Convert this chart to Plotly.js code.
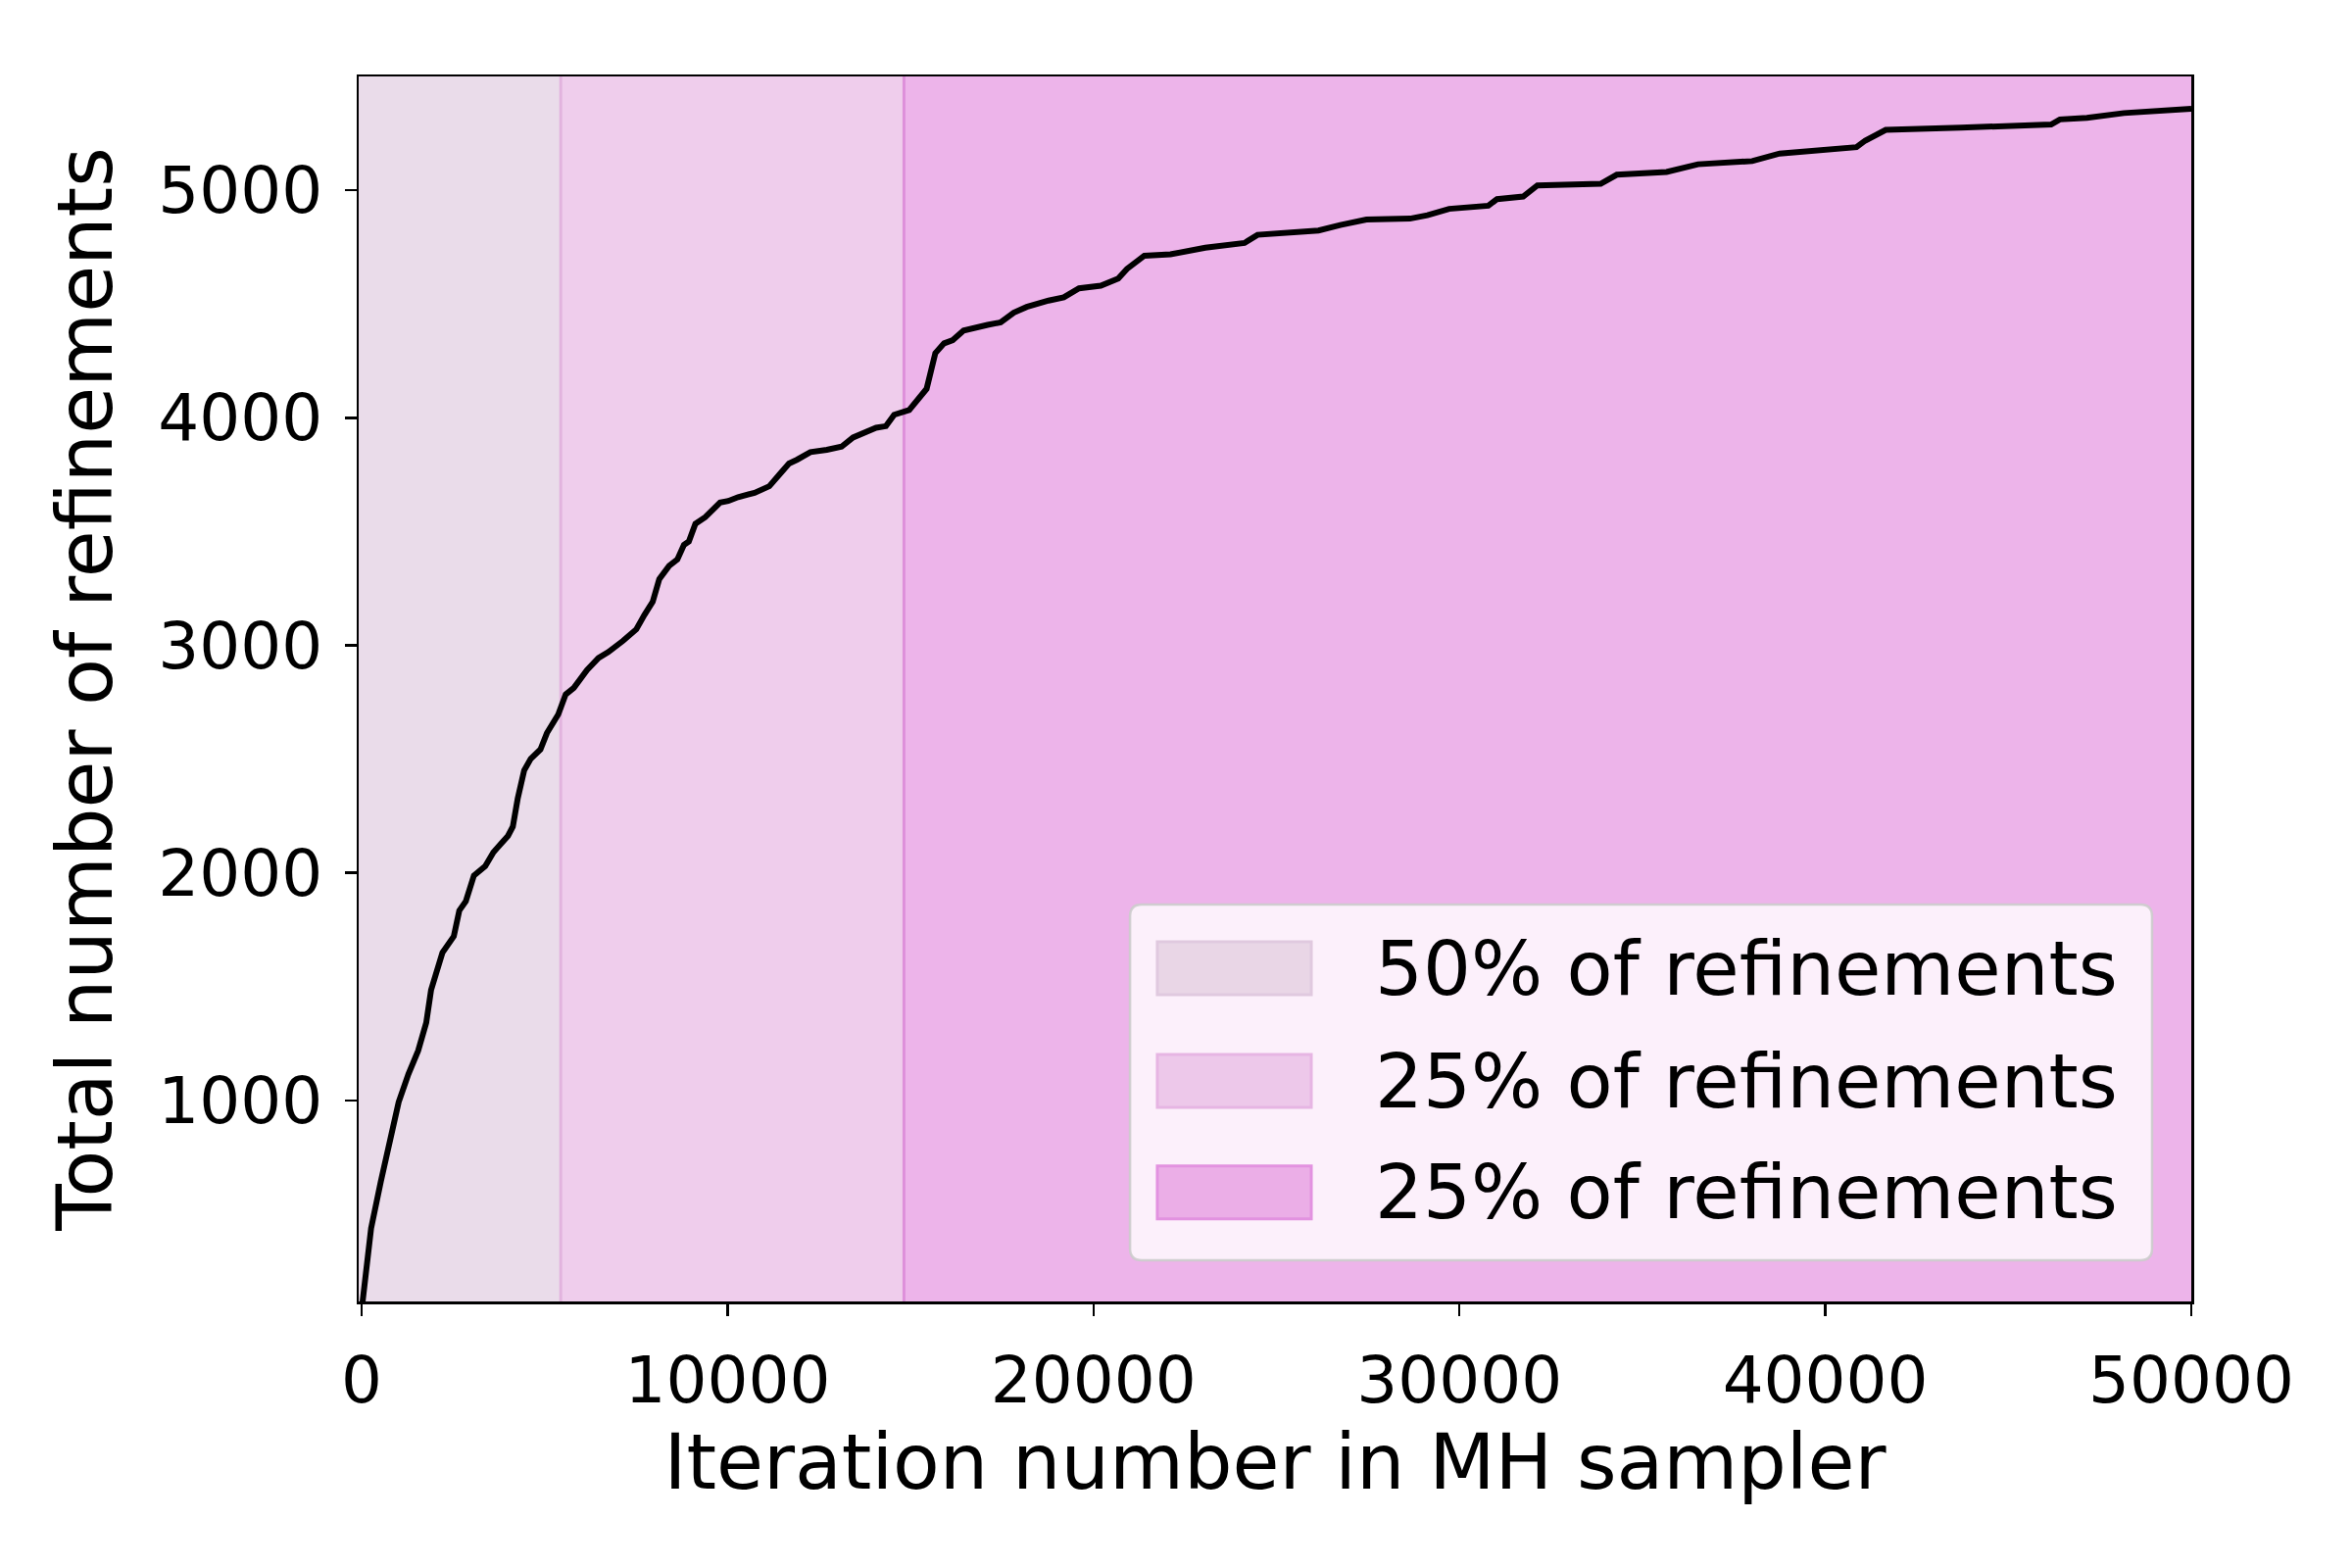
<!DOCTYPE html>
<html>
<head>
<meta charset="utf-8">
<script src="https://cdn.plot.ly/plotly-3.0.1.min.js"></script>
<style>
  html, body { margin: 0; padding: 0; background: #ffffff; }
  #plot { width: 2400px; height: 1600px; }
</style>
</head>
<body>
<div id="plot"></div>
<script>
// cumulative refinements
const iterations = [
  0, 257, 523, 789, 1011, 1277, 1543, 1764, 1897, 2207, 2518, 2668, 2846, 3067,
  3378, 3599, 3998, 4131, 4264, 4441, 4619, 4885, 5062, 5372, 5575, 5799, 6158,
  6472, 6741, 7146, 7505, 7729, 7953, 8133, 8402, 8627, 8806, 8941, 9120, 9390,
  9794, 10018, 10287, 10736, 11140, 11409, 11678, 11903, 12262, 12711, 13115,
  13429, 13788, 14058, 14327, 14551, 14963, 15201, 15439, 15677, 15915, 16153,
  16450, 17105, 17462, 17819, 18176, 18771, 19188, 19604, 20199, 20675, 20913,
  21389, 22103, 23055, 23650, 24126, 24483, 24959, 25673, 26149, 26744, 27458,
  28648, 29124, 29719, 30790, 31028, 31742, 32130, 33190, 33860, 34300, 35660,
  36520, 38000, 38750, 40110, 40850, 41090, 41650, 43700, 46170, 46410, 47150,
  48160, 49890, 50000,
];
const refinements = [
  80, 437, 643, 838, 992, 1115, 1218, 1341, 1485, 1649, 1721, 1834, 1875, 1988,
  2029, 2090, 2162, 2203, 2326, 2450, 2501, 2542, 2614, 2696, 2784, 2813, 2891,
  2944, 2970, 3020, 3070, 3134, 3191, 3291, 3349, 3377, 3441, 3456, 3534, 3563,
  3627, 3634, 3651, 3670, 3699, 3749, 3799, 3816, 3849, 3859, 3873,
  3913, 3934, 3956, 3963, 4013, 4034, 4077, 4127, 4284, 4327, 4341,
  4383, 4408, 4419, 4462, 4487, 4515, 4529, 4569, 4580, 4612, 4654,
  4712, 4718, 4747, 4757, 4768, 4804, 4811, 4819, 4823, 4847, 4871,
  4875, 4890, 4918, 4932, 4961, 4972, 5021, 5025, 5028, 5068, 5080,
  5114, 5128, 5161, 5175, 5189, 5218, 5265, 5275, 5289, 5311, 5318,
  5339, 5353, 5358,
];

// shaded bands: each holds a share of all refinements
const spanLabels = ["50% of refinements", "25% of refinements", "25% of refinements"];
const spanEnds = [5440, 14820, 50000];

const xTicks = [0, 10000, 20000, 30000, 40000, 50000];
const yTicks = [1000, 2000, 3000, 4000, 5000];
const xRange = [-82, 50000];
const yRange = [116, 5500];

const FONT = '"DejaVu Sans", Verdana, sans-serif';
const spanFill = ["#eadcea", "#efcdec", "#edb4ea"];
const spanEdge = ["#e0bddc", "#e2b3de", "#de90da"];
const swatchFill = ["#e9d6e6", "#edc8ea", "#ebaee7"];
const swatchEdge = ["#e0c9df", "#e6b5e3", "#e292e0"];

const M = { l: 366, r: 164, t: 78, b: 272 };
// plot area in pixels, used to place the hand-built legend
const plotW = 2400 - M.l - M.r;
const plotH = 1600 - M.t - M.b;
const px = (p) => p / plotW;
const py = (p) => p / plotH;

function roundedBox(x0, y0, x1, y1, r) {
  const rx = px(r), ry = py(r);
  return [
    `M${x0 + rx},${y0}`, `L${x1 - rx},${y0}`, `Q${x1},${y0} ${x1},${y0 + ry}`,
    `L${x1},${y1 - ry}`, `Q${x1},${y1} ${x1 - rx},${y1}`,
    `L${x0 + rx},${y1}`, `Q${x0},${y1} ${x0},${y1 - ry}`,
    `L${x0},${y0 + ry}`, `Q${x0},${y0} ${x0 + rx},${y0}`, "Z",
  ].join(" ");
}

const shapes = [];
spanEnds.forEach((end, i) => {
  shapes.push({
    type: "rect", xref: "x", yref: "paper", layer: "below",
    x0: i === 0 ? xRange[0] : spanEnds[i - 1], x1: end, y0: 0, y1: 1,
    fillcolor: spanFill[i],
    line: { width: 0 },
  });
});
// left edges of the 2nd and 3rd bands (the visible separators)
spanEnds.slice(0, 2).forEach((x, i) => {
  shapes.push({
    type: "line", xref: "x", yref: "paper", layer: "below",
    x0: x, x1: x, y0: 0, y1: 1,
    line: { color: spanEdge[i + 1], width: 3 },
  });
});

// legend frame
const lg = { x0: 0.4209, x1: 0.9786, y0: 0.0336, y1: 0.324 };
shapes.push({
  type: "path", xref: "paper", yref: "paper", layer: "above",
  path: roundedBox(lg.x0, lg.y0, lg.x1, lg.y1, 12),
  fillcolor: "rgba(255,255,255,0.8)",
  line: { color: "rgba(204,204,204,0.9)", width: 2.5 },
});

const rowY = [0.272, 0.180, 0.089];
const annotations = [];
spanLabels.forEach((label, i) => {
  shapes.push({
    type: "rect", xref: "paper", yref: "paper", layer: "above",
    x0: 0.4358, x1: 0.5198, y0: rowY[i] - py(27), y1: rowY[i] + py(27),
    fillcolor: swatchFill[i],
    line: { color: swatchEdge[i], width: 3 },
  });
  annotations.push({
    xref: "paper", yref: "paper", x: 0.5535, y: rowY[i],
    xanchor: "left", yanchor: "middle", showarrow: false,
    text: label,
    font: { family: FONT, size: 77, color: "#000000" },
  });
});

function axis(title, ticks, range, standoff) {
  return {
    title: { text: title, font: { family: FONT, size: 78, color: "#000" }, standoff: standoff },
    range: range,
    tickvals: ticks,
    ticktext: ticks.map(String),
    showgrid: false,
    zeroline: false,
    showline: true,
    mirror: true,
    linecolor: "#000",
    linewidth: 2.5,
    ticks: "outside",
    ticklen: 12,
    tickwidth: 2.5,
    tickcolor: "#000",
    ticklabelstandoff: 9,
    tickfont: { family: FONT, size: 66, color: "#000" },
    automargin: false,
  };
}

const traces = [{
  x: iterations,
  y: refinements,
  type: "scatter",
  mode: "lines",
  line: { color: "#000000", width: 6 },
  showlegend: false,
  hoverinfo: "skip",
}];

const layout = {
  width: 2400,
  height: 1600,
  paper_bgcolor: "#ffffff",
  plot_bgcolor: "#ffffff",
  margin: M,
  font: { family: FONT, color: "#000" },
  xaxis: axis("Iteration number in MH sampler", xTicks, xRange, 17),
  yaxis: axis("Total number of refinements", yTicks, yRange, 21),
  shapes: shapes,
  annotations: annotations,
  showlegend: false,
};

Plotly.newPlot("plot", traces, layout, { staticPlot: true, displayModeBar: false });
</script>
</body>
</html>
